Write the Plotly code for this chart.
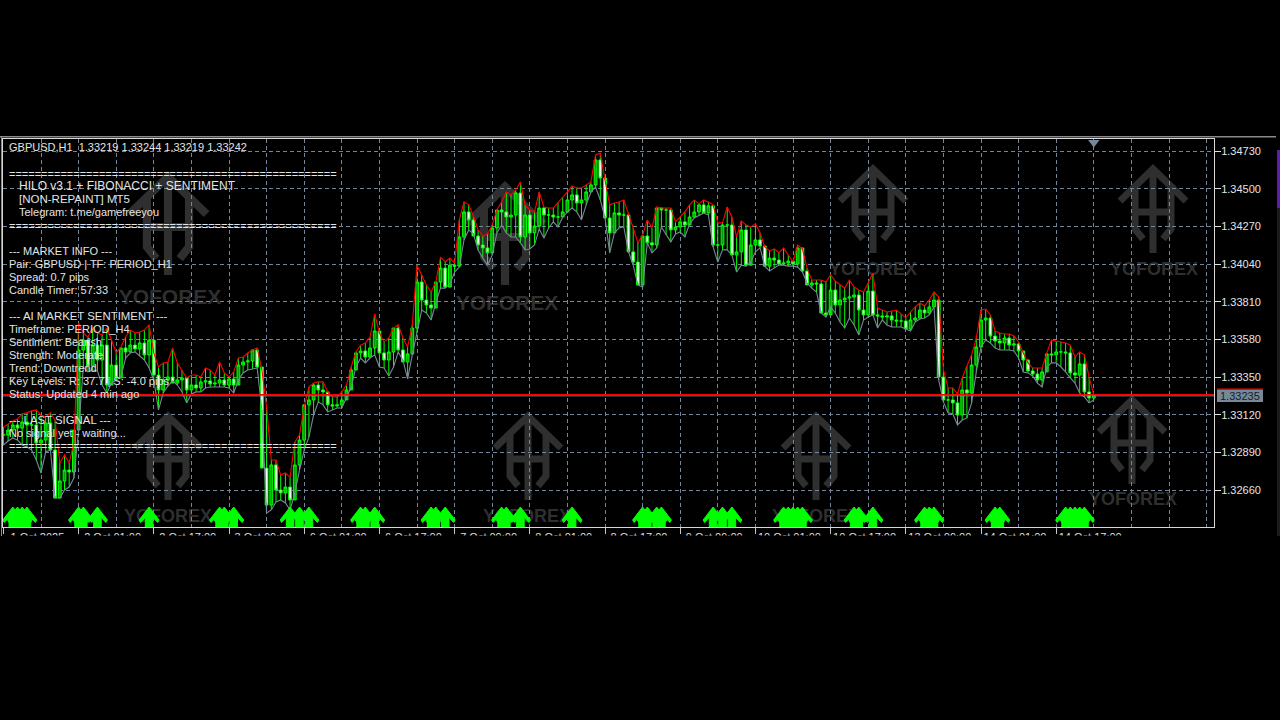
import plotly.graph_objects as go

FIRST_OPEN = 1.33000
CLOSE = [
1.32996,1.33026,1.33057,1.33038,1.33075,1.33057,1.33057,1.32947,1.32965,1.33069,1.32904,1.32611,1.32715,1.32782,1.32770,1.33026,
1.33515,1.33576,1.33417,1.33545,1.33454,1.33545,1.33301,1.33423,1.33344,1.33527,1.33503,1.33545,1.33521,1.33558,1.33485,1.33576,
1.33362,1.33271,1.33332,1.33350,1.33313,1.33332,1.33344,1.33271,1.33301,1.33283,1.33320,1.33326,1.33307,1.33313,1.33332,1.33301,
1.33338,1.33301,1.33423,1.33442,1.33448,1.33515,1.33411,1.32794,1.32568,1.32813,1.32660,1.32642,1.32678,1.32599,1.32813,1.32965,
1.33180,1.33210,1.33301,1.33271,1.33259,1.33180,1.33173,1.33180,1.33210,1.33271,1.33393,1.33497,1.33509,1.33472,1.33527,1.33631,
1.33497,1.33454,1.33503,1.33649,1.33515,1.33442,1.33491,1.33649,1.33930,1.33820,1.33790,1.33771,1.33930,1.34015,1.33899,1.34033,
1.34027,1.34205,1.34358,1.34309,1.34211,1.34156,1.34138,1.34108,1.34260,1.34370,1.34358,1.34327,1.34339,1.34474,1.34205,1.34339,
1.34230,1.34272,1.34382,1.34339,1.34339,1.34327,1.34327,1.34358,1.34431,1.34462,1.34413,1.34431,1.34480,1.34523,1.34675,1.34565,
1.34321,1.34230,1.34352,1.34339,1.34339,1.34114,1.34052,1.33912,1.34211,1.34169,1.34156,1.34382,1.34370,1.34370,1.34248,1.34266,
1.34297,1.34278,1.34327,1.34358,1.34401,1.34352,1.34395,1.34156,1.34156,1.34278,1.34278,1.34095,1.34114,1.34248,1.34033,1.34156,
1.34187,1.34150,1.34027,1.34076,1.34064,1.34040,1.34046,1.34058,1.34040,1.34138,1.33997,1.33912,1.33924,1.33918,1.33741,1.33729,
1.33881,1.33790,1.33820,1.33832,1.33838,1.33851,1.33759,1.33729,1.33875,1.33729,1.33723,1.33716,1.33723,1.33698,1.33692,1.33692,
1.33643,1.33698,1.33710,1.33759,1.33741,1.33778,1.33820,1.33350,1.33210,1.33210,1.33192,1.33118,1.33271,1.33252,1.33423,1.33533,
1.33698,1.33710,1.33600,1.33570,1.33558,1.33588,1.33545,1.33552,1.33509,1.33454,1.33387,1.33368,1.33332,1.33381,1.33491,1.33485,
1.33503,1.33503,1.33497,1.33375,1.33362,1.33430,1.33259,1.33222,1.33242]
HIGH = [
1.33044,1.33063,1.33081,1.33093,1.33125,1.33131,1.33143,1.33149,1.33118,1.33106,1.33131,1.33087,1.32825,1.32874,1.32825,1.32947,
1.33680,1.33619,1.33594,1.33655,1.33619,1.33607,1.33649,1.33576,1.33497,1.33533,1.33594,1.33637,1.33619,1.33625,1.33637,1.33668,
1.33497,1.33411,1.33436,1.33442,1.33527,1.33436,1.33393,1.33344,1.33362,1.33362,1.33350,1.33405,1.33393,1.33362,1.33442,1.33375,
1.33350,1.33381,1.33466,1.33472,1.33497,1.33515,1.33527,1.33393,1.33167,1.32843,1.32843,1.32752,1.32764,1.32739,1.32953,1.32996,
1.33167,1.33289,1.33313,1.33320,1.33320,1.33259,1.33228,1.33228,1.33259,1.33301,1.33411,1.33503,1.33545,1.33558,1.33594,1.33735,
1.33619,1.33564,1.33588,1.33649,1.33668,1.33588,1.33533,1.33668,1.34033,1.33973,1.33912,1.33869,1.33930,1.34082,1.34052,1.34076,
1.34046,1.34309,1.34419,1.34401,1.34333,1.34248,1.34211,1.34224,1.34278,1.34370,1.34419,1.34480,1.34462,1.34492,1.34541,1.34401,
1.34370,1.34358,1.34480,1.34388,1.34382,1.34382,1.34413,1.34449,1.34480,1.34517,1.34504,1.34504,1.34523,1.34541,1.34706,1.34718,
1.34553,1.34401,1.34413,1.34419,1.34431,1.34352,1.34260,1.34169,1.34217,1.34309,1.34260,1.34388,1.34382,1.34382,1.34382,1.34297,
1.34327,1.34358,1.34401,1.34431,1.34407,1.34431,1.34419,1.34401,1.34291,1.34291,1.34388,1.34327,1.34205,1.34303,1.34278,1.34266,
1.34285,1.34230,1.34144,1.34120,1.34132,1.34108,1.34138,1.34095,1.34052,1.34156,1.34132,1.34015,1.33942,1.33942,1.33942,1.33930,
1.33973,1.33936,1.33912,1.33893,1.33942,1.33899,1.33881,1.33869,1.33924,1.33985,1.33771,1.33759,1.33747,1.33753,1.33759,1.33735,
1.33710,1.33747,1.33778,1.33802,1.33784,1.33820,1.33869,1.33838,1.33393,1.33283,1.33283,1.33247,1.33344,1.33417,1.33485,1.33588,
1.33759,1.33765,1.33729,1.33631,1.33619,1.33613,1.33613,1.33600,1.33564,1.33497,1.33436,1.33405,1.33405,1.33405,1.33497,1.33576,
1.33570,1.33564,1.33558,1.33545,1.33472,1.33503,1.33485,1.33350,1.33240]
LOW = [
1.32934,1.32959,1.32977,1.32965,1.32934,1.32922,1.32904,1.32843,1.32764,1.32892,1.32904,1.32611,1.32611,1.32660,1.32678,1.32733,
1.33026,1.33411,1.33381,1.33393,1.33387,1.33301,1.33252,1.33313,1.33332,1.33350,1.33466,1.33497,1.33503,1.33478,1.33454,1.33405,
1.33332,1.33149,1.33252,1.33295,1.33326,1.33301,1.33259,1.33192,1.33247,1.33259,1.33259,1.33283,1.33289,1.33289,1.33289,1.33289,
1.33283,1.33252,1.33332,1.33375,1.33393,1.33399,1.33405,1.33149,1.32519,1.32538,1.32587,1.32599,1.32581,1.32538,1.32642,1.32782,
1.32904,1.32983,1.33118,1.33198,1.33180,1.33137,1.33149,1.33161,1.33161,1.33222,1.33289,1.33411,1.33466,1.33436,1.33466,1.33485,
1.33411,1.33405,1.33356,1.33411,1.33503,1.33454,1.33338,1.33485,1.33619,1.33759,1.33741,1.33698,1.33802,1.33893,1.33893,1.33918,
1.33991,1.34021,1.34187,1.34248,1.34224,1.34126,1.34076,1.34033,1.34095,1.34230,1.34278,1.34230,1.34205,1.34205,1.34169,1.34126,
1.34132,1.34156,1.34254,1.34199,1.34260,1.34297,1.34266,1.34327,1.34358,1.34382,1.34358,1.34309,1.34401,1.34480,1.34510,1.34431,
1.34321,1.34108,1.34230,1.34260,1.34266,1.34114,1.34033,1.33912,1.33899,1.34169,1.34108,1.34138,1.34266,1.34217,1.34175,1.34224,
1.34236,1.34205,1.34285,1.34321,1.34339,1.34352,1.34339,1.34144,1.34052,1.34126,1.34126,1.34095,1.33991,1.34033,1.34027,1.34052,
1.34114,1.34138,1.34027,1.33997,1.34015,1.34033,1.34033,1.34027,1.34027,1.34021,1.33991,1.33924,1.33893,1.33869,1.33741,1.33716,
1.33778,1.33741,1.33686,1.33649,1.33710,1.33668,1.33607,1.33698,1.33716,1.33729,1.33649,1.33698,1.33668,1.33655,1.33655,1.33655,
1.33643,1.33631,1.33686,1.33704,1.33710,1.33729,1.33778,1.33332,1.33198,1.33131,1.33125,1.33057,1.33087,1.33100,1.33192,1.33381,
1.33533,1.33576,1.33558,1.33527,1.33515,1.33515,1.33515,1.33509,1.33466,1.33381,1.33375,1.33356,1.33313,1.33289,1.33411,1.33436,
1.33436,1.33411,1.33381,1.33344,1.33313,1.33252,1.33228,1.33192,1.33210]
OPEN = [FIRST_OPEN] + CLOSE[:-1]
BARS = list(range(len(CLOSE)))

BUY_SIGNAL_BARS = [2,3,4,5,16,17,20,31,46,47,49,61,63,65,76,77,79,91,92,94,106,107,110,121,
                   136,137,139,140,151,153,155,166,167,168,169,170,181,182,185,196,197,198,
                   211,212,226,227,228,229,230]
Y_TICKS = [1.34730,1.34500,1.34270,1.34040,1.33810,1.33580,1.33350,1.33120,1.32890,1.32660]
X_TICK_BARS = list(range(0,225,16))
X_TICK_TEXT = ["1 Oct 2025","2 Oct 01:00","2 Oct 17:00","3 Oct 09:00","6 Oct 01:00","6 Oct 17:00",
               "7 Oct 09:00","8 Oct 01:00","8 Oct 17:00","9 Oct 09:00","10 Oct 01:00","10 Oct 17:00",
               "13 Oct 09:00","14 Oct 01:00","14 Oct 17:00"]
BID = 1.33235
ASK = 1.33242
PANEL = [
 (9,147,"GBPUSD,H1\u00a0\u00a01.33219 1.33244 1.33219 1.33242",11),
 (19,186,"HILO v3.1 + FIBONACCI + SENTIMENT",12),
 (19,199,"[NON-REPAINT] MT5",11.5),
 (19,212,"Telegram: t.me/gamefreeyou",11),
 (9,251,"--- MARKET INFO ---",11),
 (9,264,"Pair: GBPUSD | TF: PERIOD_H1",11),
 (9,277,"Spread: 0.7 pips",11),
 (9,290,"Candle Timer: 57:33",11),
 (9,316,"--- AI MARKET SENTIMENT ---",11.4),
 (9,329,"Timeframe: PERIOD_H4",11),
 (9,342,"Sentiment: Bearish",11),
 (9,355,"Strength: Moderate",11),
 (9,368,"Trend: Downtrend",11),
 (9,381,"Key Levels: R: 37.7 | S: -4.0 pips",11),
 (9,394,"Status: Updated 4 min ago",11),
 (9,420,"--- LAST SIGNAL ---",11.4),
 (9,433,"No signal yet - waiting...",11),
]
SEPARATOR_ROWS = [173.5,226,446]

# plot rectangle in page pixels
L,R,T,B = 3,1214,139,527
PX_PER_BAR = 4.7
PX_PER_PRICE = 16377.0
XMIN = (L-3.4)/PX_PER_BAR
XMAX = (R-3.4)/PX_PER_BAR
YMAX = 1.3473+(151-T)/PX_PER_PRICE
YMIN = 1.3473-(B-151)/PX_PER_PRICE
px = lambda x:(x-L)/(R-L)
py = lambda y:(B-y)/(B-T)

GRID = "#75869a"
LIME = "#00ff00"
WM = "#2f2f2f"

fig = go.Figure()
fig.add_trace(go.Candlestick(x=BARS,open=OPEN,high=HIGH,low=LOW,close=CLOSE,
    increasing=dict(line=dict(color=LIME,width=1),fillcolor="#00a000"),
    decreasing=dict(line=dict(color=LIME,width=1),fillcolor="#f4fff4"),
    whiskerwidth=0,showlegend=False,hoverinfo="skip"))
fig.add_trace(go.Scatter(x=BARS,y=LOW,mode="lines",line=dict(color="#778899",width=1.1),showlegend=False,hoverinfo="skip"))
fig.add_trace(go.Scatter(x=BARS,y=HIGH,mode="lines",line=dict(color="#ff0000",width=1.1),showlegend=False,hoverinfo="skip"))

# buy-signal arrows, sized in pixels and anchored on their bar
ARROW_TOP = 507
ARROW_SHAPE = [(0,0),(10,13),(8.5,15.5),(3.8,10.5),(3.8,20),(-3.8,20),(-3.8,10.5),(-8.5,15.5),(-10,13),(0,0)]
ax,ay = [],[]
for b in BUY_SIGNAL_BARS:
    for dx,dy in ARROW_SHAPE:
        ax.append(b+dx/PX_PER_BAR)
        ay.append(YMAX-(ARROW_TOP+dy-T)/PX_PER_PRICE)
    ax.append(None); ay.append(None)
fig.add_trace(go.Scatter(x=ax,y=ay,mode="lines",fill="toself",fillcolor=LIME,line=dict(width=1,color=LIME),showlegend=False,hoverinfo="skip"))

fig.add_trace(go.Scatter(x=[XMIN,XMAX],y=[BID,BID],mode="lines",line=dict(color="#778899",width=1),showlegend=False,hoverinfo="skip"))
fig.add_trace(go.Scatter(x=[XMIN,XMAX],y=[ASK,ASK],mode="lines",line=dict(color="#ff0000",width=1.6),showlegend=False,hoverinfo="skip"))
fig.add_trace(go.Scatter(x=[BARS[-1]],y=[YMAX-(142.5-T)/PX_PER_PRICE],mode="markers",
    marker=dict(symbol="triangle-down",size=10,color="#778899",line=dict(width=0)),showlegend=False,hoverinfo="skip"))

shapes,annots = [],[]
def stroke(path,w):
    shapes.append(dict(type="path",path=path,xref="paper",yref="paper",layer="below",
                       line=dict(color=WM,width=w),fillcolor="rgba(0,0,0,0)"))
def logo(cx,ay_,s,tx,ty,fs):
    P = lambda x,y:f"{px(cx+x*s):.5f},{py(ay_+y*s):.5f}"
    w = 7*s
    stroke(f"M{P(-33,36)}L{P(0,4)}L{P(33,36)}",w)
    stroke(f"M{P(0,4)}L{P(0,88)}",w)
    stroke(f"M{P(-18,20)}L{P(-18,64)}L{P(-10,74)}",w)
    stroke(f"M{P(18,20)}L{P(18,64)}L{P(10,74)}",w)
    stroke(f"M{P(-18,47)}L{P(18,47)}",w)
    shapes.append(dict(type="rect",xref="paper",yref="paper",layer="below",
        x0=px(tx-70),x1=px(tx+70),y0=py(ty+12),y1=py(ty-12),line=dict(width=0),fillcolor="rgba(0,0,0,0)",
        label=dict(text="YOFOREX",font=dict(family="Liberation Sans",size=fs,color=WM,weight="bold"),textposition="middle center")))
for args in [(168,172,1.17,170,294,21),(505,182,1.17,507,300,21),(873,165,1,873,267,18),(1153,165,1,1154,267,18),
             (168,412,1,168,514,18),(528,412,1,527,514,18),(816,412,1,816,514,18),(1132,396,1,1133,497,18)]:
    logo(*args)

TXT = "#e4e4e4"
for x,y,t,fs in PANEL:
    annots.append(dict(text=t,x=px(x-2),y=py(y),xref="paper",yref="paper",xanchor="left",yanchor="middle",showarrow=False,
                       font=dict(family="Liberation Sans",size=fs,color=TXT)))
for y in SEPARATOR_ROWS:
    annots.append(dict(text="="*51,x=px(7),y=py(y),xref="paper",yref="paper",xanchor="left",yanchor="middle",showarrow=False,
                       font=dict(family="Liberation Sans",size=11,color=TXT)))
annots.append(dict(text=f"{BID:.5f}",x=px(1240),y=py(396),xref="paper",yref="paper",xanchor="center",yanchor="middle",showarrow=False,
                   font=dict(family="Liberation Sans",size=11,color="#10202c")))

def rect(x0,y0,x1,y1,c,layer="above"):
    shapes.append(dict(type="rect",xref="paper",yref="paper",layer=layer,x0=px(x0),x1=px(x1),y0=py(y1),y1=py(y0),
                       line=dict(width=0),fillcolor=c))
rect(1217,389,1263,402,"#778899","below")
rect(1217,388.5,1263,390,"#ff0000")
rect(0,535.6,1280,720,"#000000")
rect(0,136,1276,137.5,"#8a8a8a")
rect(1,136,2,536,"#8a8a8a")
rect(1277,150,1280,208,"#5a1eb0")
rect(1277,208,1280,536,"#1c1c1c")

fig.update_layout(width=1280,height=720,autosize=False,margin=dict(l=L,r=1280-R,t=T,b=720-B,pad=0),
    paper_bgcolor="#000000",plot_bgcolor="rgba(0,0,0,0)",boxgap=0.15,showlegend=False,
    shapes=shapes,annotations=annots,
    xaxis=dict(range=[XMIN,XMAX],rangeslider=dict(visible=False),tickmode="array",tickvals=X_TICK_BARS,ticktext=X_TICK_TEXT,
        ticks="outside",ticklen=6,tickcolor="#c8c8c8",tickwidth=1,ticklabelshift=34,ticklabelstandoff=-6,
        tickfont=dict(family="Liberation Sans",size=11,color=TXT),
        showgrid=True,gridcolor=GRID,griddash="4px,3px",gridwidth=1,zeroline=False,
        minor=dict(dtick=8,tick0=0,showgrid=True,gridcolor=GRID,griddash="4px,3px",gridwidth=1,ticks=""),
        showline=True,linecolor="#d8d8d8",linewidth=1,mirror=True,layer="below traces"),
    yaxis=dict(range=[YMIN,YMAX],side="right",tickmode="array",tickvals=Y_TICKS,ticktext=[f"{v:.5f}" for v in Y_TICKS],
        ticks="outside",ticklen=6,tickcolor="#e0e0e0",tickwidth=1,ticklabelstandoff=-2,
        tickfont=dict(family="Liberation Sans",size=11,color=TXT),
        showgrid=True,gridcolor=GRID,griddash="4px,3px",gridwidth=1,zeroline=False,
        showline=True,linecolor="#d8d8d8",linewidth=1,mirror=True,layer="below traces"))

fig.write_html("out.html",config=dict(displayModeBar=False),
    post_script="document.body.style.margin='0';document.body.style.background='#000';")
